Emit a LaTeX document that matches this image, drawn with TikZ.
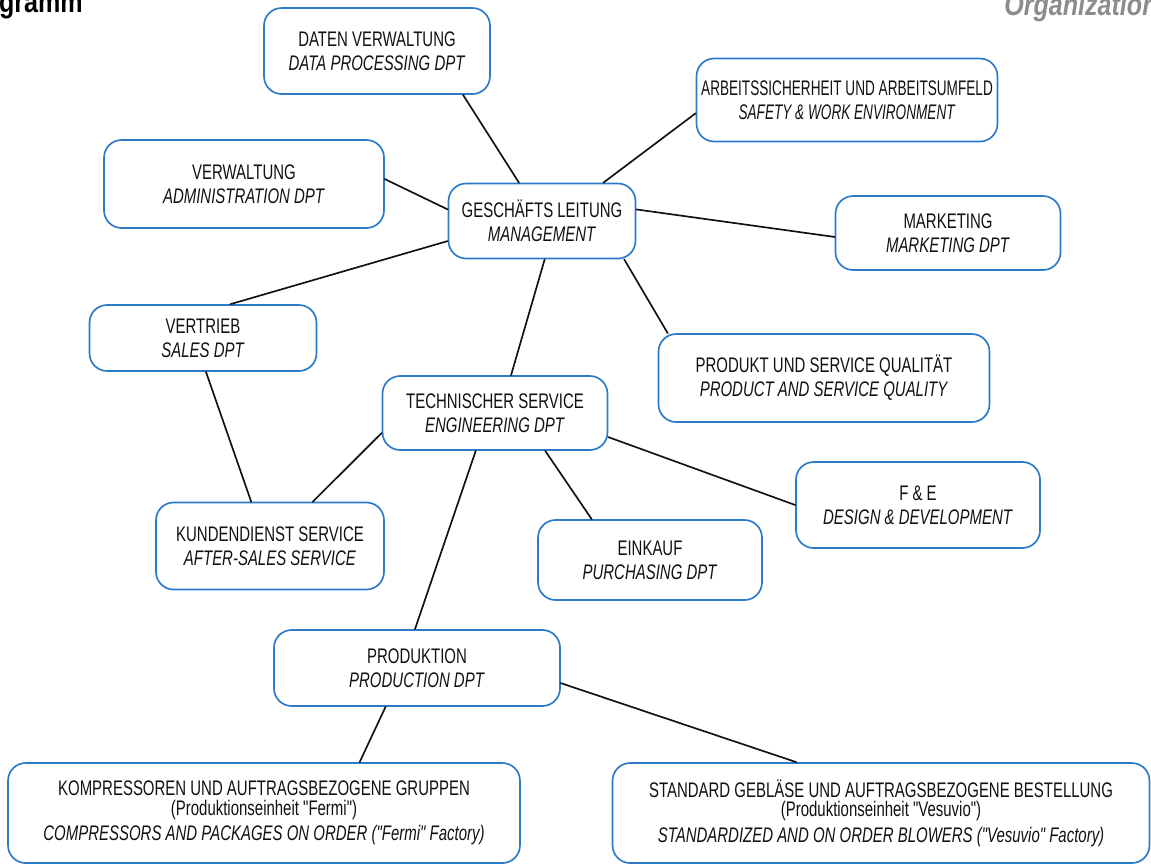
\documentclass[tikz,border=0pt]{standalone}
\usepackage{fontspec}
\setmainfont{Liberation Sans}[FakeStretch=0.71, Ligatures=TeXOff]
\newfontfamily\narrowfont{Liberation Sans}[FakeStretch=0.645, Ligatures=TeXOff]
\newfontfamily\headfont{Liberation Sans}[FakeStretch=0.82]
\usepackage{tikz}
\definecolor{orgblue}{HTML}{2B7BC8}
\definecolor{orggray}{HTML}{8C8C8C}
\definecolor{orgink}{HTML}{111111}

\begin{document}
\begin{tikzpicture}[x=0.02cm, y=-0.02cm, line cap=round,
  dept/.style={draw=orgblue, line width=0.95pt, rounded corners=10pt, align=center,
    inner sep=2pt, text=orgink, font=\fontsize{12}{13.6}\selectfont},
  link/.style={orgink, line width=0.95pt}]
  \useasboundingbox (0,0) rectangle (1151,863);
  \node[font=\headfont\fontsize{17.4}{19}\selectfont\bfseries, anchor=base east, inner sep=0pt] (head) at (83,12.5) {gramm};
  \node[orggray, font=\headfont\fontsize{17.4}{19}\selectfont\bfseries\itshape, anchor=base west, inner sep=0pt] (headen) at (1004,15) {Organization};

  \node[dept, minimum width=4.52cm, minimum height=1.72cm] (dv) at (377,51) {DATEN VERWALTUNG\\\textit{DATA PROCESSING DPT}};
  \node[dept, minimum width=6.02cm, minimum height=1.66cm, font=\narrowfont\fontsize{12}{13.6}\selectfont] (as) at (847,100) {ARBEITSSICHERHEIT UND ARBEITSUMFELD\\\textit{SAFETY \& WORK ENVIRONMENT}};
  \node[dept, minimum width=5.6cm, minimum height=1.76cm] (vw) at (244,184) {VERWALTUNG\\\textit{ADMINISTRATION DPT}};
  \node[dept, minimum width=3.74cm, minimum height=1.5cm] (gl) at (542,221) {GESCHÄFTS LEITUNG\\\textit{MANAGEMENT}};
  \node[dept, minimum width=4.5cm, minimum height=1.48cm] (mk) at (948,233) {MARKETING\\\textit{MARKETING DPT}};
  \node[dept, minimum width=4.54cm, minimum height=1.32cm] (vt) at (203,338) {VERTRIEB\\\textit{SALES DPT}};
  \node[dept, minimum width=6.62cm, minimum height=1.76cm] (pq) at (824,378) {PRODUKT UND SERVICE QUALITÄT\\\textit{PRODUCT AND SERVICE QUALITY}};
  \node[dept, minimum width=4.5cm, minimum height=1.48cm] (ts) at (495,413) {TECHNISCHER SERVICE\\\textit{ENGINEERING DPT}};
  \node[dept, minimum width=4.88cm, minimum height=1.72cm] (fe) at (918,505) {F \& E\\\textit{DESIGN \& DEVELOPMENT}};
  \node[dept, minimum width=4.56cm, minimum height=1.74cm] (kd) at (270,546) {KUNDENDIENST SERVICE\\\textit{AFTER-SALES SERVICE}};
  \node[dept, minimum width=4.48cm, minimum height=1.6cm] (ek) at (650,560) {EINKAUF\\\textit{PURCHASING DPT}};
  \node[dept, minimum width=5.72cm, minimum height=1.52cm] (pd) at (417,668) {PRODUKTION\\\textit{PRODUCTION DPT}};
  \node[dept, minimum width=10.24cm, minimum height=2cm] (kp) at (264,813) {KOMPRESSOREN UND AUFTRAGSBEZOGENE GRUPPEN\\[-2.6pt](Produktionseinheit "Fermi")\\[1pt]\textit{COMPRESSORS AND PACKAGES ON ORDER ("Fermi" Factory)}};
  \node[dept, minimum width=10.74cm, minimum height=2cm] (sg) at (881,813) {STANDARD GEBLÄSE UND AUFTRAGSBEZOGENE BESTELLUNG\\[-2.6pt](Produktionseinheit "Vesuvio")\\[1pt]\textit{STANDARDIZED AND ON ORDER BLOWERS ("Vesuvio" Factory)}};

  \draw[link] (dv.-27) -- (gl.121);
  \draw[link] (as.185) -- (gl.32);
  \draw[link] (vw.2) -- (gl.173);
  \draw[link] (gl.7) -- (mk.182);
  \draw[link] (gl.-168) -- (vt.51);
  \draw[link] (gl.-25) -- (pq.164);
  \draw[link] (gl.-86) -- (ts.67);
  \draw[link] (vt.-85) -- (kd.113);
  \draw[link] (ts.-170) -- (kd.46);
  \draw[link] (ts.-12) -- (fe.180);
  \draw[link] (ts.-37) -- (ek.145);
  \draw[link] (ts.-117) -- (pd.93);
  \draw[link] (pd.-129) -- (kp.28);
  \draw[link] (pd.-6) -- (sg.149);
\end{tikzpicture}
\end{document}
